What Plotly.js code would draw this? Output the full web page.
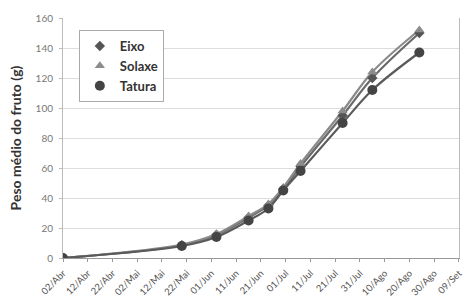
<!DOCTYPE html>
<html>
<head>
<meta charset="utf-8">
<script src="https://cdn.plot.ly/plotly-3.0.1.min.js"></script>
<style>html,body{margin:0;padding:0;background:#fff;}#chart{width:466px;height:300px;}</style>
</head>
<body>
<div id="chart"></div>
<script>
var dates = ['2010-04-02','2010-05-20','2010-06-03','2010-06-16','2010-06-24','2010-06-30','2010-07-07','2010-07-24','2010-08-05','2010-08-24'];
var eixo   = [0, 8.5, 15.5, 27, 35, 46, 61, 95, 120, 150];
var solaxe = [0, 9, 16, 28, 36, 47, 63, 98, 124, 152];
var tatura = [0, 8, 14, 25, 33, 45, 58, 90, 112, 137];
var seriesNames = ['Eixo', 'Solaxe', 'Tatura'];
var tickDates = ['2010-04-02','2010-04-12','2010-04-22','2010-05-02','2010-05-12','2010-05-22','2010-06-01','2010-06-11','2010-06-21','2010-07-01','2010-07-11','2010-07-21','2010-07-31','2010-08-10','2010-08-20','2010-08-30','2010-09-09'];
var tickLabels = ['02/Abr','12/Abr','22/Abr','02/Mai','12/Mai','22/Mai','01/Jun','11/Jun','21/Jun','01/Jul','11/Jul','21/Jul','31/Jul','10/Ago','20/Ago','30/Ago','09/Set'];

var values = [eixo, solaxe, tatura];
var lineColors = ['#6a6a6a', '#8a8a8a', '#5a5a5a'];
var markerColors = ['#555555', '#8c8c8c', '#444444'];
var symbols = ['diamond', 'triangle-up', 'circle'];
var sizes = [8, 9, 10];

var traces = [];
for (var i = 0; i < 3; i++) {
  traces.push({x: dates, y: values[i], mode: 'lines', type: 'scatter', showlegend: false,
    line: {color: lineColors[i], width: 2.2, shape: 'spline'}, hoverinfo: 'skip'});
}
for (var j = 0; j < 3; j++) {
  traces.push({x: dates, y: values[j], mode: 'markers', type: 'scatter', name: seriesNames[j],
    marker: {color: markerColors[j], symbol: symbols[j], size: sizes[j]}});
}

var layout = {
  width: 466, height: 300,
  margin: {l: 63, r: 7, t: 18, b: 42},
  paper_bgcolor: '#ffffff', plot_bgcolor: '#ffffff',
  font: {family: 'Lato, "Open Sans", sans-serif', color: '#666'},
  showlegend: true,
  legend: {x: 0.04, y: 0.95, xanchor: 'left', yanchor: 'top', bgcolor: '#ffffff',
    bordercolor: '#aaaaaa', borderwidth: 1, font: {size: 13, color: '#333', weight: 'bold'},
    tracegroupgap: 0, itemwidth: 30},
  xaxis: {type: 'date', range: ['2010-04-02', '2010-09-09 00:30'], tickmode: 'array',
    tickvals: tickDates, ticktext: tickLabels, tickangle: -45, tickfont: {size: 9.5, color: '#555'},
    showgrid: false, showline: true, linecolor: '#999', ticks: 'outside', ticklen: 3, tickcolor: '#999',
    zeroline: false, automargin: false, ticklabeloverflow: 'allow', ticklabelstandoff: 2},
  yaxis: {range: [0, 160], dtick: 20, tickfont: {size: 10, color: '#777'},
    showgrid: true, gridcolor: '#dddddd', gridwidth: 1, showline: true, linecolor: '#bbb',
    mirror: true, ticks: 'outside', ticklen: 3, tickcolor: '#bbb', zeroline: false, ticklabelstandoff: 4,
    title: {text: 'Peso médio do fruto (g)', font: {size: 14, color: '#333', weight: 'bold'}, standoff: 10}}
};
Plotly.newPlot('chart', traces, layout, {displayModeBar: false, staticPlot: true});
</script>
</body>
</html>
